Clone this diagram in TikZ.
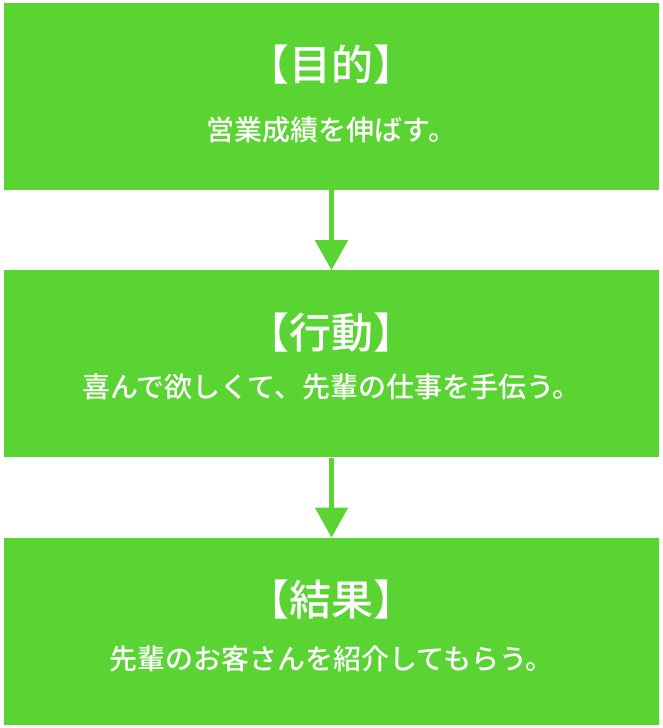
\documentclass[tikz,border=0pt]{standalone}
\usepackage{fontspec}
\newfontfamily\cjk{Noto Sans CJK JP Medium}
\usetikzlibrary{positioning, arrows.meta}
\definecolor{leaf}{HTML}{5AD432}
\tikzset{
  stepbox/.style = {fill = leaf, minimum width = 655pt, minimum height = 187pt, inner sep = 0pt},
  headtext/.style = {text = white, font = \cjk\fontsize{42pt}{46pt}\selectfont},
  bodytext/.style = {text = white, font = \cjk\fontsize{28pt}{32pt}\selectfont},
  flow/.style = {-{Triangle[width = 32pt, length = 30pt]}, line width = 5pt, draw = leaf}
}
\begin{document}
\begin{tikzpicture}
\useasboundingbox (0pt, 0pt) rectangle (662pt, -728pt);
\node (aim) [stepbox] at (331.5pt, -96.5pt) {};
\node (act) [stepbox, below = 80pt of aim] {};
\node (res) [stepbox, below = 80pt of act] {};

\node (aimhead) [headtext] at ([yshift = -62pt] aim.north) {【目的】};
\node (aimbody) [bodytext] at ([yshift = -127pt] aim.north) {営業成績を伸ばす。};
\node (acthead) [headtext] at ([yshift = -62pt] act.north) {【行動】};
\node (actbody) [bodytext] at ([yshift = -117pt] act.north) {喜んで欲しくて、先輩の仕事を手伝う。};
\node (reshead) [headtext] at ([yshift = -62pt] res.north) {【結果】};
\node (resbody) [bodytext] at ([yshift = -121pt] res.north) {先輩のお客さんを紹介してもらう。};

\draw[flow] (aim) -- (act);
\draw[flow] (act) -- (res);
\end{tikzpicture}
\end{document}
